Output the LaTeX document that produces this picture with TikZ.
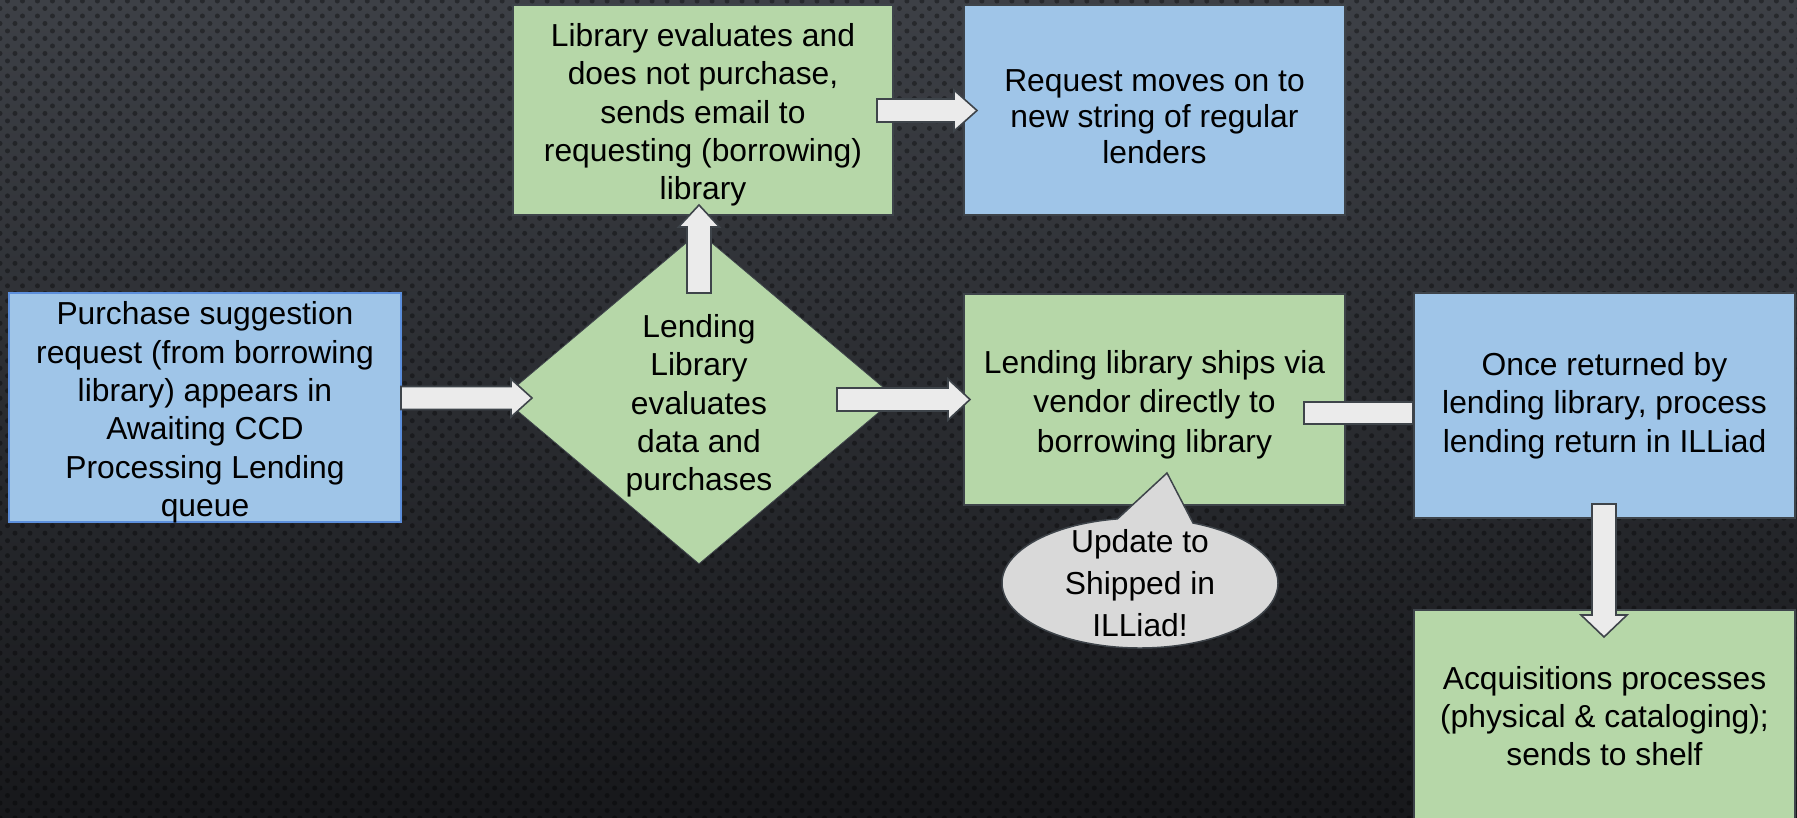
\documentclass[tikz,border=0pt]{standalone}
\usepackage{fontspec}
\setmainfont{Liberation Sans}
\usetikzlibrary{shapes.geometric,shapes.callouts,patterns.meta}
\definecolor{bxgreen}{HTML}{B6D7A8}
\definecolor{bxblue}{HTML}{9FC5E8}
\definecolor{edgegray}{HTML}{3E444A}
\definecolor{arrfill}{HTML}{EBEBEB}
\definecolor{calfill}{HTML}{D9D9D9}
\definecolor{bgtop}{HTML}{3D4046}
\definecolor{bgbot}{HTML}{17181B}
\definecolor{lbedge}{HTML}{5C8FDC}
\begin{document}
\begin{tikzpicture}[x=0.5pt,y=-0.5pt,
  txt/.style={font=\fontsize{15.9}{19.15}\selectfont, align=center, text=black, inner sep=0pt},
  box/.style={rectangle, draw=edgegray, line width=0.75pt, inner sep=0pt},
  gbox/.style={box, fill=bxgreen},
  bbox/.style={box, fill=bxblue},
  blockarrow/.style={fill=arrfill, draw=edgegray, line width=0.8pt, line join=miter},
]
\shade[top color=bgtop, bottom color=bgbot] (0,0) rectangle (1797,818);
\fill[pattern={Dots[distance=5.3pt,angle=45,radius=1.25pt]}, pattern color=black, fill opacity=0.35] (0,0) rectangle (1797,818);
\useasboundingbox (0,0) rectangle (1797,818);

% boxes
\node[bbox, draw=lbedge, minimum width=196pt, minimum height=114.5pt] (lb) at (205,407.5) {};
\node[txt, yshift=-2.5pt] (lbt) at (lb.center)
  {Purchase suggestion\\request (from borrowing\\library) appears in\\Awaiting CCD\\Processing Lending\\queue};
\node[gbox, minimum width=190pt, minimum height=105pt] (tg) at (703,110) {};
\node[txt, yshift=-2.5pt] (tgt) at (tg.center)
  {Library evaluates and\\does not purchase,\\sends email to\\requesting (borrowing)\\library};
\node[bbox, minimum width=190.5pt, minimum height=105pt] (tb) at (1154.5,110) {};
\node[txt, font=\fontsize{15.9}{18}\selectfont, yshift=-3.5pt] (tbt) at (tb.center)
  {Request moves on to\\new string of regular\\lenders};
\node[diamond, fill=bxgreen, draw=edgegray, line width=0.4pt, minimum width=197pt, minimum height=166pt, inner sep=0pt] (dm) at (699,398) {};
\node[txt, yshift=-4pt] (dmt) at (dm.center) {Lending\\Library\\evaluates\\data and\\purchases};
\node[gbox, minimum width=190.5pt, minimum height=105.5pt] (mg) at (1154.5,399.5) {};
\node[txt, font=\fontsize{15.9}{19.8}\selectfont, yshift=-2.5pt] (mgt) at (mg.center)
  {Lending library ships via\\vendor directly to\\borrowing library};
\node[bbox, minimum width=190.5pt, minimum height=112.5pt] (rb) at (1604.5,405.5) {};
\node[txt] (rbt) at (rb.center)
  {Once returned by\\lending library, process\\lending return in ILLiad};
\node[gbox, minimum width=190.5pt, minimum height=106pt] (bg) at (1604.5,716) {};
\node[txt] (bgt) at (bg.center)
  {Acquisitions processes\\(physical \& cataloging);\\sends to shelf};

% block arrows
\draw[blockarrow] (401,386.5) -- (511,386.5) -- (511,379) -- (532,398) -- (511,417) -- (511,409.5) -- (401,409.5) -- cycle;
\draw[blockarrow] (687,293) -- (687,227) -- (678.5,227) -- (699,205) -- (719.5,227) -- (711,227) -- (711,293) -- cycle;
\draw[blockarrow] (877,99) -- (954,99) -- (954,90) -- (977,110.5) -- (954,131) -- (954,122) -- (877,122) -- cycle;
\draw[blockarrow] (837,388) -- (948,388) -- (948,379) -- (970,399.5) -- (948,420) -- (948,411) -- (837,411) -- cycle;
\draw[blockarrow] (1304,402) rectangle (1413,424);
\draw[blockarrow] (1592,504) -- (1592,615) -- (1581,615) -- (1604,637) -- (1627,615) -- (1616,615) -- (1616,504) -- cycle;

% callout
\coordinate (tip) at (1167,473);
\node[ellipse callout, fill=calfill, draw=edgegray, line width=0.75pt, minimum width=138pt, minimum height=65pt, inner sep=0pt, callout absolute pointer={(tip)}, callout pointer arc=32] (upd) at (1140,583) {};
\node[font=\fontsize{15.9}{21}\selectfont, align=center] (updt) at (1140,583) {Update to\\Shipped in\\ILLiad!};
\end{tikzpicture}
\end{document}
